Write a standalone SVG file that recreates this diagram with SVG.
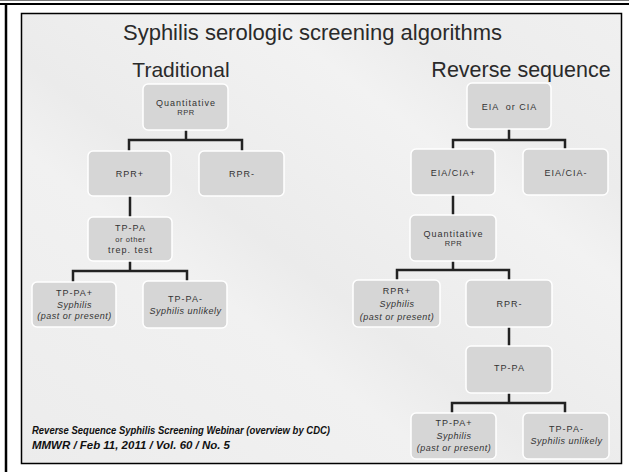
<svg xmlns="http://www.w3.org/2000/svg" width="629" height="472" viewBox="0 0 629 472">
<defs>
<linearGradient id="bg" x1="0" y1="1" x2="1" y2="0">
<stop offset="0" stop-color="#ececec"/>
<stop offset="0.35" stop-color="#f1f1f1"/>
<stop offset="0.45" stop-color="#ebebeb"/>
<stop offset="0.7" stop-color="#f2f2f2"/>
<stop offset="0.8" stop-color="#ececec"/>
<stop offset="1" stop-color="#f0f0f0"/>
</linearGradient>
</defs>
<style>
.box{fill:#d6d6d6;stroke:#ffffff;stroke-width:1.5}
.t{font-family:"Liberation Sans",Arial,sans-serif;fill:#333333;text-anchor:middle;font-size:9px;letter-spacing:1px}
.s{font-size:7.5px;letter-spacing:0.6px}
.i{font-style:italic;letter-spacing:0.5px}
.c{fill:none;stroke:#222222;stroke-width:2.5;stroke-linecap:butt;stroke-linejoin:miter}
.h{font-family:"Liberation Sans",Arial,sans-serif;fill:#2a2a2a;text-anchor:middle}
.f{font-family:"Liberation Sans",Arial,sans-serif;font-weight:bold;font-style:italic;font-size:10.5px;fill:#111111}
</style>
<rect x="0" y="0" width="629" height="472" fill="#ffffff"/>
<line x1="0" y1="0.5" x2="629" y2="0.5" stroke="#777777" stroke-width="1"/>
<line x1="0" y1="4" x2="629" y2="4" stroke="#000000" stroke-width="2"/>
<line x1="6" y1="4" x2="6" y2="472" stroke="#000000" stroke-width="2.5"/>
<rect x="21.5" y="13.5" width="600" height="450" fill="url(#bg)" stroke="#000000" stroke-width="1.5"/>

<text class="h" x="312.5" y="40" font-size="22">Syphilis serologic screening algorithms</text>
<text class="h" x="181" y="77" font-size="21">Traditional</text>
<text class="h" x="521" y="77" font-size="21.5">Reverse sequence</text>

<g id="connectors">
<path class="c" d="M186,130 V140 M129,151 V140 H242 V151"/>
<path class="c" d="M130,196 V217"/>
<path class="c" d="M130,261 V271 M73,282 V271 H187 V281"/>
<path class="c" d="M509,129 V140 M453,149 V140 H565 V149"/>
<path class="c" d="M453,195 V215"/>
<path class="c" d="M453,261 V270 M397,280 V270 H509 V280"/>
<path class="c" d="M509,327 V346"/>
<path class="c" d="M509,393 V403 M452,413 V403 H565 V413"/>
</g>

<g id="t-quant-rpr">
<rect class="box" x="143" y="84" width="85" height="46" rx="5"/>
<text class="t" x="186" y="106">Quantitative</text>
<text class="t s" x="186" y="115">RPR</text>
</g>
<g id="t-rpr-pos">
<rect class="box" x="88" y="151" width="83" height="45" rx="5"/>
<text class="t" x="130" y="176.5">RPR+</text>
</g>
<g id="t-rpr-neg">
<rect class="box" x="199" y="151" width="85" height="45" rx="5"/>
<text class="t" x="242" y="176.5">RPR-</text>
</g>
<g id="t-tppa">
<rect class="box" x="88" y="217" width="84" height="44" rx="5"/>
<text class="t" x="130.5" y="230.5">TP-PA</text>
<text class="t s" x="130.5" y="241.5">or other</text>
<text class="t" x="130.5" y="253" font-size="9.5" letter-spacing="0.8">trep. test</text>
</g>
<g id="t-tppa-pos">
<rect class="box" x="32" y="282" width="84" height="45" rx="5"/>
<text class="t" x="74.5" y="296">TP-PA+</text>
<text class="t i" x="74.5" y="307.5">Syphilis</text>
<text class="t i" x="74.5" y="319">(past or present)</text>
</g>
<g id="t-tppa-neg">
<rect class="box" x="143" y="281" width="84" height="47" rx="5"/>
<text class="t" x="185.5" y="302">TP-PA-</text>
<text class="t i" x="185.5" y="313.5">Syphilis unlikely</text>
</g>

<g id="r-eia">
<rect class="box" x="467" y="83" width="84" height="46" rx="5"/>
<text class="t" x="509.5" y="109.5" xml:space="preserve">EIA  or CIA</text>
</g>
<g id="r-eia-pos">
<rect class="box" x="411" y="149" width="84" height="46" rx="5"/>
<text class="t" x="453.5" y="176">EIA/CIA+</text>
</g>
<g id="r-eia-neg">
<rect class="box" x="523" y="149" width="85" height="46" rx="5"/>
<text class="t" x="566" y="176">EIA/CIA-</text>
</g>
<g id="r-quant-rpr">
<rect class="box" x="410" y="215" width="86" height="46" rx="5"/>
<text class="t" x="453.5" y="237">Quantitative</text>
<text class="t s" x="453.5" y="245.5">RPR</text>
</g>
<g id="r-rpr-pos">
<rect class="box" x="353" y="280" width="87" height="47" rx="5"/>
<text class="t" x="397" y="293.5">RPR+</text>
<text class="t i" x="397" y="306.5">Syphilis</text>
<text class="t i" x="397" y="319.5">(past or present)</text>
</g>
<g id="r-rpr-neg">
<rect class="box" x="466" y="280" width="86" height="47" rx="5"/>
<text class="t" x="509.5" y="307">RPR-</text>
</g>
<g id="r-tppa">
<rect class="box" x="466" y="346" width="86" height="47" rx="5"/>
<text class="t" x="509.5" y="371">TP-PA</text>
</g>
<g id="r-tppa-pos">
<rect class="box" x="411" y="413" width="85" height="46" rx="5"/>
<text class="t" x="454" y="426">TP-PA+</text>
<text class="t i" x="454" y="439">Syphilis</text>
<text class="t i" x="454" y="451">(past or present)</text>
</g>
<g id="r-tppa-neg">
<rect class="box" x="523" y="413" width="86" height="46" rx="5"/>
<text class="t" x="566.5" y="432">TP-PA-</text>
<text class="t i" x="566.5" y="444">Syphilis unlikely</text>
</g>

<text class="f" x="32" y="434" textLength="298" lengthAdjust="spacingAndGlyphs">Reverse Sequence Syphilis Screening Webinar (overview by CDC)</text>
<text class="f" x="32" y="449" textLength="198" lengthAdjust="spacingAndGlyphs">MMWR / Feb 11, 2011 / Vol. 60 / No. 5</text>
</svg>
